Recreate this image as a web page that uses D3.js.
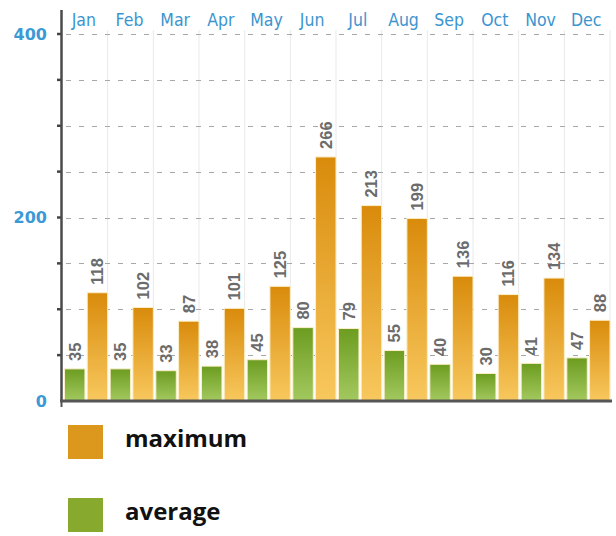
<!DOCTYPE html>
<html>
<head>
<meta charset="utf-8">
<script src="https://cdn.jsdelivr.net/npm/d3@7"></script>
<style>
    body { margin: 0; background: #fff; }
    svg { display: block; }
</style>
</head>
<body>
<svg width="616" height="536"></svg>
<script>
var months = ["Jan", "Feb", "Mar", "Apr", "May", "Jun", "Jul", "Aug", "Sep", "Oct", "Nov", "Dec"];
var maximum = [118, 102, 87, 101, 125, 266, 213, 199, 136, 116, 134, 88];
var average = [35, 35, 33, 38, 45, 80, 79, 55, 40, 30, 41, 47];
var gridTicks = [50, 100, 150, 200, 250, 300, 350, 400];
var labelTicks = [0, 200, 400];
var series = ["average", "maximum"];

var svg = d3.select("svg");

var x = d3.scaleBand().domain(months).range([62, 610]).paddingInner(0).paddingOuter(0);
var x1 = d3.scaleBand().domain(series).range([2.5, x.bandwidth()]).paddingInner(0.1);
var y = d3.scaleLinear().domain([0, 400]).range([401, 34]);

var defs = svg.append("defs");
function gradient(id, top, bottom) {
    var g = defs.append("linearGradient").attr("id", id)
        .attr("x1", 0).attr("y1", 0).attr("x2", 0).attr("y2", 1);
    g.append("stop").attr("offset", "0%").attr("stop-color", top);
    g.append("stop").attr("offset", "100%").attr("stop-color", bottom);
}
gradient("gradMax", "#d98b0b", "#f8c85e");
gradient("gradAvg", "#6c9c20", "#a3c95f");

// vertical separators
svg.append("g")
    .selectAll("line").data(months.slice(1).concat(["end"])).enter()
    .append("line")
    .attr("x1", function(d, i) { return x(months[0]) + x.step() * (i + 1); })
    .attr("x2", function(d, i) { return x(months[0]) + x.step() * (i + 1); })
    .attr("y1", 30)
    .attr("y2", 400)
    .attr("stroke", "#e9e9e9")
    .attr("stroke-width", 1);

// dashed horizontal grid
svg.append("g")
    .selectAll("line").data(gridTicks).enter()
    .append("line")
    .attr("x1", 66)
    .attr("x2", 612)
    .attr("y1", function(d) { return Math.round(y(d)) + 0.5; })
    .attr("y2", function(d) { return Math.round(y(d)) + 0.5; })
    .attr("stroke", "#a8a8a8")
    .attr("stroke-width", 1.2)
    .attr("stroke-dasharray", "5,8");

// month labels along the top
svg.append("g")
    .selectAll("text").data(months).enter()
    .append("text")
    .attr("x", function(d) { return x(d) + x.bandwidth() / 2 - 1; })
    .attr("y", 26)
    .attr("text-anchor", "middle")
    .attr("font-family", "DejaVu Sans Condensed, DejaVu Sans")
    .attr("font-size", "17.5px")
    .attr("fill", "#3c95cf")
    .text(function(d) { return d; });

// bars
var rows = months.map(function(m, i) {
    return { month: m, values: [
        { key: "average", value: average[i] },
        { key: "maximum", value: maximum[i] }
    ]};
});

var groups = svg.append("g")
    .selectAll("g").data(rows).enter()
    .append("g")
    .attr("transform", function(d) { return "translate(" + x(d.month) + ",0)"; });

groups.selectAll("rect").data(function(d) { return d.values; }).enter()
    .append("rect")
    .attr("x", function(d) { return x1(d.key); })
    .attr("width", x1.bandwidth())
    .attr("y", function(d) { return y(d.value); })
    .attr("height", function(d) { return y(0) - y(d.value); })
    .attr("fill", function(d) { return d.key === "maximum" ? "url(#gradMax)" : "url(#gradAvg)"; })
    .attr("stroke", "#fbefc9")
    .attr("stroke-width", 1);

groups.selectAll("text").data(function(d) { return d.values; }).enter()
    .append("text")
    .attr("transform", function(d) {
        return "translate(" + (x1(d.key) + x1.bandwidth() / 2) + "," + (y(d.value) - 8) + ") rotate(-90)";
    })
    .attr("dy", "0.36em")
    .attr("text-anchor", "start")
    .attr("font-family", "Liberation Sans, Arial, sans-serif")
    .attr("font-weight", "bold")
    .attr("font-size", "16.5px")
    .attr("fill", "#6b6b6b")
    .text(function(d) { return d.value; });

// y axis
svg.append("g")
    .selectAll("line").data(gridTicks).enter()
    .append("line")
    .attr("x1", 57)
    .attr("x2", 62)
    .attr("y1", function(d) { return y(d); })
    .attr("y2", function(d) { return y(d); })
    .attr("stroke", "#444")
    .attr("stroke-width", 2.5);

svg.append("line")
    .attr("x1", 61.5).attr("x2", 61.5)
    .attr("y1", 10).attr("y2", y(0))
    .attr("stroke", "#4a4a4a")
    .attr("stroke-width", 2.5);

svg.append("line")
    .attr("x1", 60).attr("x2", 612)
    .attr("y1", y(0)).attr("y2", y(0))
    .attr("stroke", "#555")
    .attr("stroke-width", 3);

svg.append("line")
    .attr("x1", 61.5).attr("x2", 61.5)
    .attr("y1", y(0)).attr("y2", y(0) + 6)
    .attr("stroke", "#555")
    .attr("stroke-width", 2);

svg.append("g")
    .selectAll("text").data(labelTicks).enter()
    .append("text")
    .attr("x", 47)
    .attr("y", function(d) { return y(d); })
    .attr("dy", "0.36em")
    .attr("text-anchor", "end")
    .attr("font-family", "DejaVu Sans")
    .attr("font-weight", "bold")
    .attr("font-size", "16px")
    .attr("fill", "#3b9ad6")
    .text(function(d) { return d; });

// legend
var legend = [
    { label: "maximum", color: "#db981c", y: 425 },
    { label: "average", color: "#86a92e", y: 498 }
];
var lg = svg.append("g")
    .selectAll("g").data(legend).enter()
    .append("g");
lg.append("rect")
    .attr("x", 68)
    .attr("y", function(d) { return d.y; })
    .attr("width", 35)
    .attr("height", 34)
    .attr("fill", function(d) { return d.color; });
lg.append("text")
    .attr("x", 125)
    .attr("y", function(d) { return d.y + 22; })
    .attr("font-family", "Open Sans")
    .attr("font-weight", "bold")
    .attr("font-size", "24px")
    .attr("fill", "#111")
    .text(function(d) { return d.label; });
</script>
</body>
</html>
